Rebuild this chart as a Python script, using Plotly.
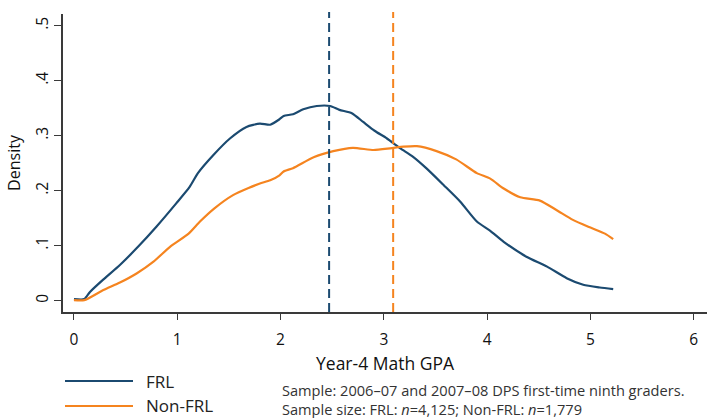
import plotly.graph_objects as go

# Kernel density of year-4 math GPA, by free/reduced-price lunch status
frl_gpa = [0.0, 0.10, 0.155, 0.28, 0.445, 0.62, 0.80, 0.99, 1.12, 1.20, 1.35, 1.51, 1.67, 1.80,
           1.90, 1.99, 2.03, 2.12, 2.22, 2.35, 2.48, 2.57, 2.69, 2.80, 2.91, 3.03, 3.16, 3.28,
           3.41, 3.58, 3.74, 3.90, 4.03, 4.16, 4.38, 4.58, 4.77, 4.93, 5.09, 5.22]
frl_density = [0.003, 0.003, 0.016, 0.038, 0.065, 0.098, 0.135, 0.177, 0.207, 0.232, 0.265,
               0.295, 0.316, 0.322, 0.320, 0.330, 0.336, 0.339, 0.348, 0.354, 0.354, 0.347,
               0.341, 0.325, 0.309, 0.295, 0.277, 0.262, 0.241, 0.210, 0.180, 0.144, 0.127,
               0.107, 0.080, 0.062, 0.041, 0.029, 0.024, 0.021]

nonfrl_gpa = [0.0, 0.10, 0.28, 0.445, 0.61, 0.77, 0.93, 1.11, 1.22, 1.36, 1.54, 1.69, 1.80,
              1.90, 1.99, 2.03, 2.12, 2.32, 2.51, 2.70, 2.90, 3.06, 3.19, 3.32, 3.51, 3.70,
              3.90, 4.03, 4.16, 4.32, 4.51, 4.67, 4.83, 5.00, 5.14, 5.22]
nonfrl_density = [0.001, 0.001, 0.019, 0.033, 0.050, 0.071, 0.098, 0.122, 0.144, 0.168,
                  0.192, 0.205, 0.213, 0.219, 0.228, 0.235, 0.241, 0.261, 0.272, 0.278,
                  0.274, 0.277, 0.280, 0.281, 0.272, 0.257, 0.232, 0.222, 0.204, 0.188,
                  0.182, 0.165, 0.147, 0.133, 0.122, 0.112]

# Group means of year-4 math GPA
frl_mean = 2.47
nonfrl_mean = 3.09

y_ticks = [0, 0.1, 0.2, 0.3, 0.4, 0.5]
y_tick_labels = ["0", ".1", ".2", ".3", ".4", ".5"]
x_ticks = [0, 1, 2, 3, 4, 5, 6]

series_names = ["FRL", "Non-FRL"]
notes = ["Sample: 2006\u201307 and 2007\u201308 DPS first-time ninth graders.",
         "Sample size: FRL: <i>n</i>=4,125; Non-FRL: <i>n</i>=1,779"]

NAVY = "#1b4a70"
ORANGE = "#f5841f"
AXIS = "#3a3a3a"

# Plot-area geometry in pixels (used for placing the legend and notes below it)
L, T, W, H = 63, 14, 644, 298


def px_to_paper(px, py):
    return (px - L) / W, (T + H - py) / H


fig = go.Figure()
fig.add_trace(go.Scatter(x=frl_gpa, y=frl_density, mode="lines", name=series_names[0],
                         line=dict(color=NAVY, width=2.2, shape="spline", smoothing=0.6),
                         showlegend=False))
fig.add_trace(go.Scatter(x=nonfrl_gpa, y=nonfrl_density, mode="lines", name=series_names[1],
                         line=dict(color=ORANGE, width=2.2, shape="spline", smoothing=0.6),
                         showlegend=False))

# Dashed mean markers
for m, c in [(frl_mean, NAVY), (nonfrl_mean, ORANGE)]:
    fig.add_shape(type="line", xref="x", yref="paper", x0=m, x1=m, y0=0, y1=1.007,
                  line=dict(color=c, width=2, dash="9px,5px"))

# Legend drawn below the axis
for i, (name, c) in enumerate(zip(series_names, [NAVY, ORANGE])):
    yy = 381 + 25 * i
    x0, y0 = px_to_paper(65, yy)
    x1, _ = px_to_paper(133, yy)
    fig.add_shape(type="line", xref="paper", yref="paper", x0=x0, x1=x1, y0=y0, y1=y0,
                  line=dict(color=c, width=2))
    tx, ty = px_to_paper(145, yy)
    fig.add_annotation(text=name, xref="paper", yref="paper", x=tx, y=ty,
                       xanchor="left", yanchor="middle", showarrow=False, borderpad=0,
                       font=dict(family="Open Sans", size=17, color="#222222"))

# Sample notes, two lines in one block
nx, ny = px_to_paper(281, 399)
fig.add_annotation(text="<br>".join(notes), xref="paper", yref="paper", x=nx, y=ny,
                   xanchor="left", yanchor="middle", align="left", showarrow=False,
                   borderpad=0, font=dict(family="Open Sans", size=14.6, color="#333333"))

fig.update_layout(
    width=707, height=418,
    margin=dict(l=L, r=707 - L - W, t=T, b=418 - T - H),
    paper_bgcolor="white", plot_bgcolor="white",
    font=dict(family="Open Sans", color="#111111"),
    xaxis=dict(range=[-0.106, 6.128], tickvals=x_ticks, showgrid=False, zeroline=False,
               showline=True, linecolor=AXIS, linewidth=1.5, ticks="outside",
               ticklen=6, tickwidth=1.2, tickcolor=AXIS, tickfont=dict(size=15.5),
               ticklabelstandoff=7,
               title=dict(text="Year-4 Math GPA", font=dict(family="Open Sans", size=17.5),
                          standoff=8)),
    yaxis=dict(range=[-0.0205, 0.5213], tickvals=y_ticks, ticktext=y_tick_labels,
               tickangle=-90, showgrid=False, zeroline=False, showline=True,
               linecolor=AXIS, linewidth=1.5, ticks="outside", ticklen=7,
               tickwidth=1.2, tickcolor=AXIS, tickfont=dict(size=15.5),
               title=dict(text="Density", font=dict(size=16), standoff=6)),
)

fig.write_html("out.html")
